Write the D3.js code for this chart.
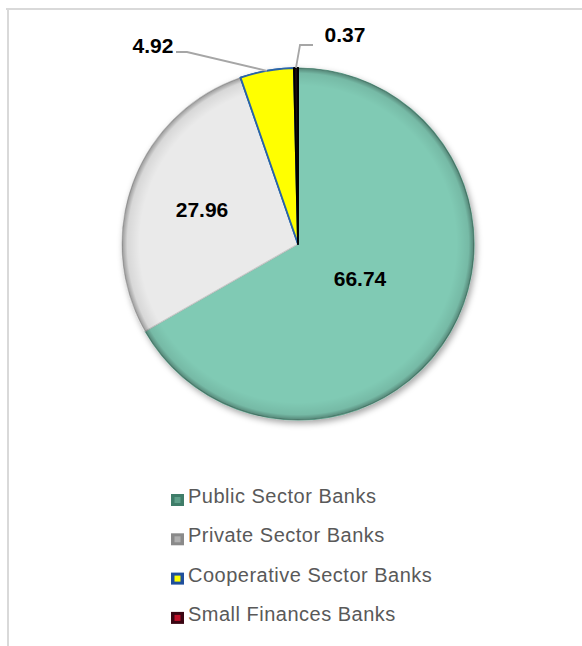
<!DOCTYPE html>
<html>
<head>
<meta charset="utf-8">
<script src="https://cdn.jsdelivr.net/npm/d3@7"></script>
<style>
  body { margin: 0; background: #fff; }
  .valueText { font-family: "Liberation Sans", Arial, sans-serif; font-weight: bold; fill: #000; }
  .legendText { font-family: "Liberation Sans", Arial, sans-serif; fill: #595959; }
</style>
</head>
<body>
<div id="chart"></div>
<script>
// data
var categories = ["Public Sector Banks", "Private Sector Banks", "Cooperative Sector Banks", "Small Finances Banks"];
var shares = [66.74, 27.96, 4.92, 0.37];
var valueLabels = ["66.74", "27.96", "4.92", "0.37"];

var colors = ["#80cab4", "#eaeaea", "#ffff00", "#1a0c0e"];
var strokes = ["#5f9e8a", "#c9c9c9", "#2a64a8", "#000000"];
var legendOuter = ["#3f7d69", "#8a8a8a", "#1f4f9c", "#3a0512"];
var legendInner = ["#5fa08a", "#b0b0b0", "#ffff00", "#c0102a"];

var svgWidth = 582;
var svgHeight = 646;

var cx = 298, cy = 244, radius = 176;

var svg = d3.select("#chart")
  .append("svg")
  .attr("width", svgWidth)
  .attr("height", svgHeight);

// light frame round the chart area
svg.append("line")
  .attr("x1", 6).attr("y1", 9).attr("x2", svgWidth).attr("y2", 9)
  .attr("stroke", "#d9d9d9").attr("stroke-width", 2);
svg.append("line")
  .attr("x1", 8).attr("y1", 8).attr("x2", 8).attr("y2", svgHeight)
  .attr("stroke", "#d9d9d9").attr("stroke-width", 2);

var defs = svg.append("defs");

var shadow = defs.append("filter")
  .attr("id", "shadow")
  .attr("x", "-20%").attr("y", "-20%")
  .attr("width", "140%").attr("height", "140%");
shadow.append("feDropShadow")
  .attr("dx", 2).attr("dy", 3)
  .attr("stdDeviation", 3)
  .attr("flood-color", "#000")
  .attr("flood-opacity", 0.35);

// darker rim to fake the bevel
var rim = defs.append("radialGradient")
  .attr("id", "rim")
  .attr("cx", "50%").attr("cy", "50%").attr("r", "50%");
rim.append("stop").attr("offset", "90%").attr("stop-color", "#000").attr("stop-opacity", 0);
rim.append("stop").attr("offset", "97%").attr("stop-color", "#000").attr("stop-opacity", 0.08);
rim.append("stop").attr("offset", "100%").attr("stop-color", "#000").attr("stop-opacity", 0.35);

var pieData = categories.map(function (c, i) {
  return { name: c, value: shares[i], label: valueLabels[i], idx: i };
});

var pie = d3.pie()
  .value(d => d.value)
  .sort(null);

var arcs = pie(pieData);

var arc = d3.arc()
  .innerRadius(0)
  .outerRadius(radius);

var pieGroup = svg.append("g")
  .attr("transform", `translate(${cx}, ${cy})`);

var sliceGroup = pieGroup.append("g")
  .attr("filter", "url(#shadow)");

sliceGroup.selectAll("path.slice")
  .data(arcs)
  .enter()
  .append("path")
  .attr("class", "slice")
  .attr("d", arc)
  .attr("fill", d => colors[d.data.idx])
  .attr("stroke", d => strokes[d.data.idx])
  .attr("stroke-width", d => d.data.idx >= 2 ? 1.8 : 1.2)
  .attr("stroke-linejoin", "round");

pieGroup.append("circle")
  .attr("r", radius)
  .attr("fill", "url(#rim)")
  .attr("pointer-events", "none");

// redraw the two thin slices on top so their outlines stay crisp
pieGroup.selectAll("path.thin")
  .data(arcs.filter(d => d.data.idx >= 2))
  .enter()
  .append("path")
  .attr("class", "thin")
  .attr("d", arc)
  .attr("fill", d => colors[d.data.idx])
  .attr("stroke", d => strokes[d.data.idx])
  .attr("stroke-width", 1.8)
  .attr("stroke-linejoin", "round");

// inside labels for the big slices
var inArc = d3.arc().innerRadius(0).outerRadius(radius * 0.78);

pieGroup.selectAll("text.inLabel")
  .data(arcs.filter(d => d.data.idx < 2))
  .enter()
  .append("text")
  .attr("class", "valueText")
  .attr("font-size", 21)
  .attr("text-anchor", "middle")
  .attr("x", d => d.data.idx == 0 ? 62 : -96)
  .attr("y", d => d.data.idx == 0 ? 42 : -27)
  .text(d => d.data.label);

// outside labels with leader lines for the small slices
var edgeArc = d3.arc().innerRadius(radius).outerRadius(radius);

var small = arcs.filter(d => d.data.idx >= 2);
var labelPos = [[-145, -191], [47, -202]];   // text anchor points (middle, baseline)
var elbow = [[-111, -192], [2, -199]];
var lineStart = [[-122, -192], [15, -199]];

small.forEach(function (d, i) {
  var p = edgeArc.centroid(d);
  pieGroup.append("polyline")
    .attr("points", [lineStart[i], elbow[i], p].map(q => q.join(",")).join(" "))
    .attr("fill", "none")
    .attr("stroke", "#a6a6a6")
    .attr("stroke-width", 1.8);

  pieGroup.append("text")
    .attr("class", "valueText")
    .attr("font-size", 21)
    .attr("text-anchor", "middle")
    .attr("x", labelPos[i][0])
    .attr("y", labelPos[i][1])
    .text(d.data.label);
});

// legend
var legend = svg.append("g")
  .attr("transform", "translate(171, 503)");

var rows = legend.selectAll("g.row")
  .data(categories)
  .enter()
  .append("g")
  .attr("class", "row")
  .attr("transform", (d, i) => `translate(0, ${i * 39.3})`);

rows.append("rect")
  .attr("x", 0).attr("y", -9)
  .attr("width", 13).attr("height", 12)
  .attr("fill", (d, i) => legendOuter[i]);

rows.append("rect")
  .attr("x", 3.5).attr("y", -6)
  .attr("width", 6).attr("height", 6)
  .attr("fill", (d, i) => legendInner[i]);

rows.append("text")
  .attr("class", "legendText")
  .attr("x", 17)
  .attr("y", 0)
  .attr("font-size", 20)
  .attr("letter-spacing", 0.5)
  .text(d => d);
</script>
</body>
</html>
